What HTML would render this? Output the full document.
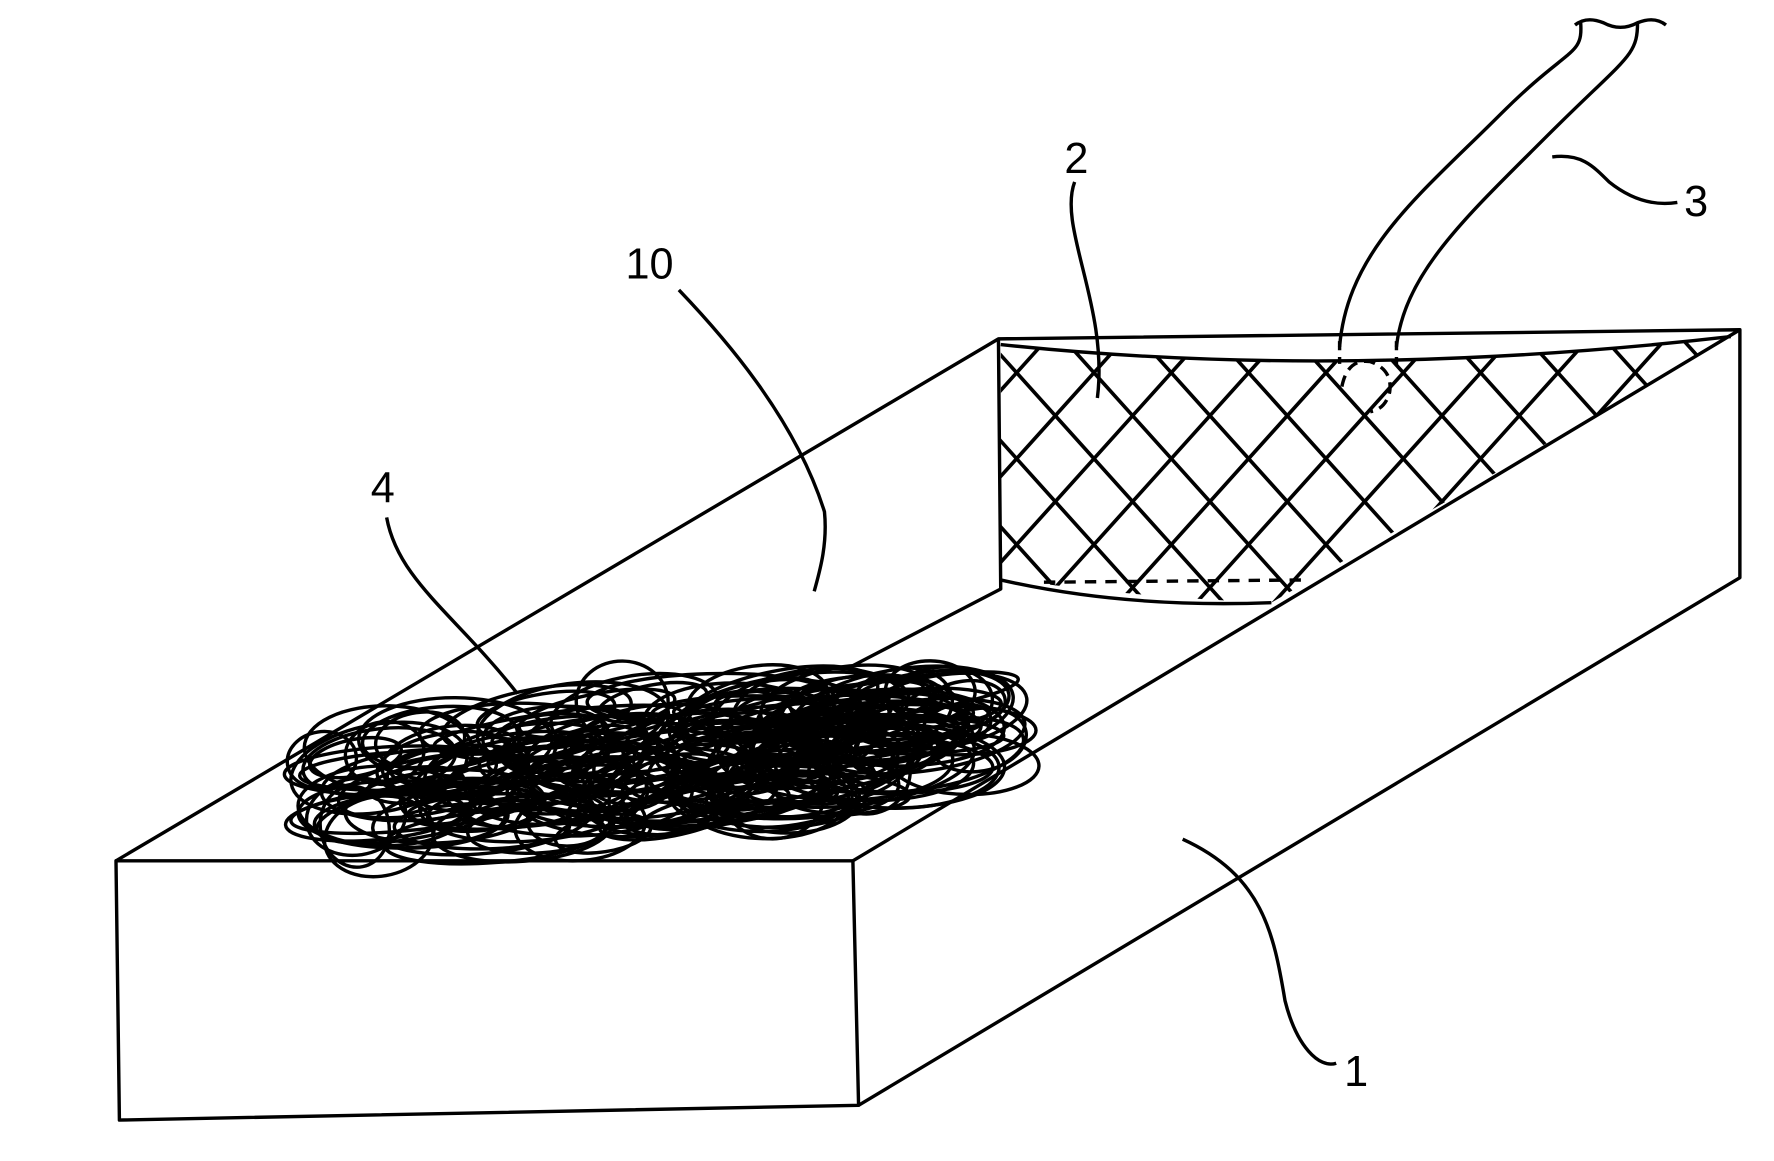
<!DOCTYPE html>
<html><head><meta charset="utf-8"><style>
html,body{margin:0;padding:0;background:#fff;width:1774px;height:1161px;overflow:hidden}
svg{display:block}
text{font-family:"Liberation Sans",sans-serif;font-size:38px;fill:#000}
</style></head><body>
<svg id="s" width="1774" height="1161" viewBox="0 0 1560 1021" preserveAspectRatio="none" xmlns="http://www.w3.org/2000/svg">
<defs>
<clipPath id="mc"><path d="M880,303 Q1180,335 1522,296 L1118,530 Q990,525 880,508 Z"/></clipPath>
</defs>
<g fill="none" stroke="#000" stroke-width="3" stroke-linejoin="round">
<path d="M102,757 L750,757 L755,972 L105,985 Z"/>
<path d="M102,757 L878,298 L1530,290 L1530,508 L755,972"/>
<path d="M750,757 L1530,290"/>
<path d="M878,298 L880,518 L745,588"/>
<g id="hatch" clip-path="url(#mc)" stroke-width="3.2"></g>
<path d="M880,303 Q1180,335 1522,296"/>
<path d="M880,510 Q990,535 1118,530"/>
<path d="M918,512 L1150,510" stroke-dasharray="10,8"/>
<path d="M1178,305 C1185,220 1250,170 1320,100 C1380,40 1392,50 1390,20"/>
<path d="M1228,305 C1235,240 1290,190 1360,120 C1430,50 1440,50 1440,20"/>
<path d="M1178,300 L1178,320 M1228,300 L1228,325" stroke-dasharray="8,6"/>
<path d="M1180,340 Q1185,315 1205,318 Q1225,325 1222,345 Q1218,360 1205,362" stroke-dasharray="10,6"/>
<path d="M1385,22 Q1395,14 1410,20 Q1425,28 1440,20 Q1455,14 1465,22"/>
<path d="M945,160 C930,200 975,270 965,350"/>
<path d="M1475,178 C1450,182 1430,172 1415,160 C1400,145 1390,135 1365,138"/>
<path d="M597,255 C640,300 700,370 725,450 C728,480 720,505 716,520"/>
<path d="M340,455 C350,510 400,540 455,610"/>
<path d="M1175,935 C1160,940 1140,920 1130,880 C1120,820 1110,770 1040,738"/>
<g id="scr" stroke-width="3"></g>
</g>
<text x="936" y="152">2</text>
<text x="1481" y="190">3</text>
<text x="550" y="245">10</text>
<text x="326" y="442">4</text>
<text x="1182" y="955">1</text>
</svg>
<script>
(function(){
var ns="http://www.w3.org/2000/svg";
var h=document.getElementById("hatch");
for(var k=-700;k<900;k+=68){
 var a=document.createElementNS(ns,"line");
 a.setAttribute("x1",880+k);a.setAttribute("y1",290);a.setAttribute("x2",880+k+250*0.9);a.setAttribute("y2",540);h.appendChild(a);
 var b=document.createElementNS(ns,"line");
 b.setAttribute("x1",880+k);b.setAttribute("y1",290);b.setAttribute("x2",880+k-250*0.9);b.setAttribute("y2",540);h.appendChild(b);
}
var s=document.getElementById("scr");
var seed=7;function r(){seed=(seed*16807)%2147483647;return seed/2147483647;}
for(var i=0;i<170;i++){
 var t=r();
 var rx=30+r()*80, ry=14+r()*26;
 var cx=250+rx+t*(920-250-2*rx);
 var yc=700-t*60, span=60+60*(1-Math.abs(t-0.45)*1.6);
 var cy=yc+(r()-0.5)*span;
 var e=document.createElementNS(ns,"ellipse");
 e.setAttribute("cx",cx);e.setAttribute("cy",cy);e.setAttribute("rx",rx);e.setAttribute("ry",ry);
 e.setAttribute("transform","rotate("+(-12+r()*14)+" "+cx+" "+cy+")");
 s.appendChild(e);
}
})();
</script>
</body></html>
